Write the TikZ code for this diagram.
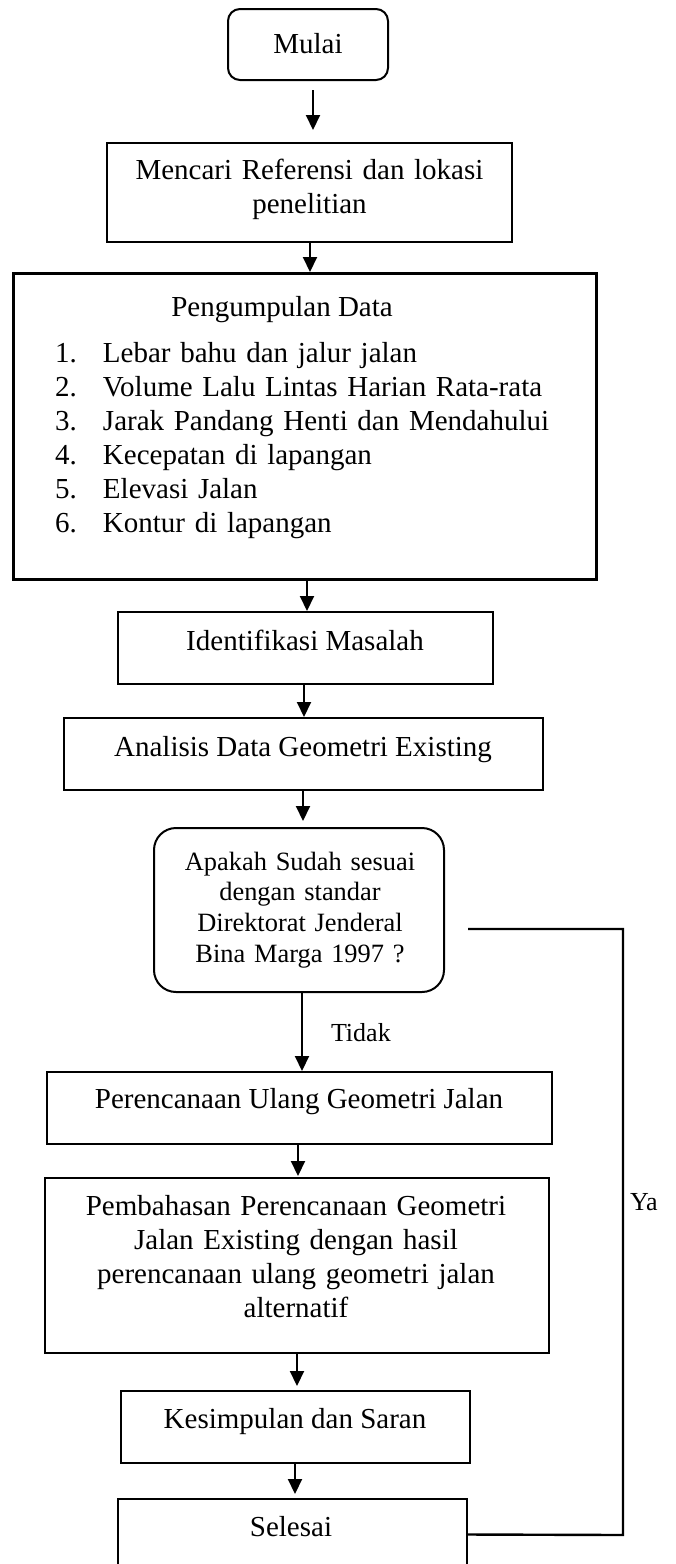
\documentclass[tikz,border=0pt]{standalone}
\usepackage{fontspec}
\setmainfont{Liberation Serif}
\usetikzlibrary{arrows.meta,calc}
\tikzset{
  box/.style={draw=black, line width=1.5pt, inner sep=0pt, outer sep=0pt},
  thickbox/.style={draw=black, line width=3pt, inner sep=0pt, outer sep=0pt},
  roundbox/.style={draw=black, line width=2pt, inner sep=0pt, outer sep=0pt, rounded corners=#1},
  txt/.style={inner sep=0pt, outer sep=0pt, font=\fontsize{29}{34}\selectfont},
  mtxt/.style={txt, align=center, text width=#1},
  dtxt/.style={inner sep=0pt, outer sep=0pt, font=\fontsize{26.4}{30.7}\selectfont, align=center, text width=290pt},
  lbl/.style={inner sep=0pt, outer sep=0pt, font=\fontsize{26}{30}\selectfont},
  arr/.style={line width=2pt, -{Triangle[length=15pt,width=14pt]}},
  yaline/.style={line width=2.4pt},
}
\begin{document}
\begin{tikzpicture}[x=1pt,y=-1pt]
\useasboundingbox (0,0) rectangle (676,1564);
\fill[white] (0,0) rectangle (676,1564);

% boxes
\node[roundbox=12pt, minimum width=160pt, minimum height=71pt] (mulai) at (308,44.5) {};
\node[box, minimum width=405pt, minimum height=99pt] (mencari) at (309.5,192.5) {};
\node[thickbox, minimum width=583pt, minimum height=306pt] (peng) at (304.5,426) {};
\node[box, minimum width=375pt, minimum height=72pt] (ident) at (305.5,648) {};
\node[box, minimum width=479pt, minimum height=72pt] (anal) at (303.5,754) {};
\node[roundbox=22pt, minimum width=290pt, minimum height=164pt] (dec) at (299,910) {};
\node[box, minimum width=505pt, minimum height=72pt] (perenc) at (299.5,1108) {};
\node[box, minimum width=504pt, minimum height=175pt] (bahas) at (297,1265.5) {};
\node[box, minimum width=349pt, minimum height=72pt] (simpul) at (295.5,1427) {};
\node[box, minimum width=349pt, minimum height=71pt] (selesai) at (292.5,1534.5) {};

% texts
\node[txt, anchor=base] (tmulai) at (308,53) {Mulai};
\node[mtxt=405pt, anchor=base] (tmencari) at (309.5,179) {Mencari Referensi dan lokasi\\penelitian};
\node[txt, anchor=base] (tpeng) at (282,316) {Pengumpulan Data};
\node[txt, anchor=base west, align=left, text width=530pt] (tlist) at (55,362) {%
\makebox[48pt][l]{1.}Lebar bahu dan jalur jalan\\
\makebox[48pt][l]{2.}Volume Lalu Lintas Harian Rata-rata\\
\makebox[48pt][l]{3.}Jarak Pandang Henti dan Mendahului\\
\makebox[48pt][l]{4.}Kecepatan di lapangan\\
\makebox[48pt][l]{5.}Elevasi Jalan\\
\makebox[48pt][l]{6.}Kontur di lapangan};
\node[txt, anchor=base] (tident) at (305,650) {Identifikasi Masalah};
\node[txt, anchor=base] (tanal) at (303,756) {Analisis Data Geometri Existing};
\node[dtxt, anchor=base] (tdec) at (300,870) {Apakah Sudah sesuai\\dengan standar\\Direktorat Jenderal\\Bina Marga 1997 ?};
\node[txt, anchor=base] (tperenc) at (299,1108) {Perencanaan Ulang Geometri Jalan};
\node[mtxt=504pt, anchor=base] (tbahas) at (296,1215) {Pembahasan Perencanaan Geometri\\Jalan Existing dengan hasil\\perencanaan ulang geometri jalan\\alternatif};
\node[txt, anchor=base] (tsimpul) at (295,1428) {Kesimpulan dan Saran};
\node[txt, anchor=base] (tselesai) at (291,1536) {Selesai};
\node[lbl, anchor=base west] (tidak) at (331,1041) {Tidak};
\node[lbl, anchor=base west] (ya) at (630,1210) {Ya};

% connectors
\draw[arr] ($(mulai.south)+(5,10)$) -- ($(mencari.north)+(3.5,-13)$);
\draw[arr] ($(mencari.south)+(0.5,0)$) -- ($(peng.north)+(5.5,-1)$);
\draw[arr] ($(peng.south)+(2.5,0)$) -- ($(ident.north)+(1.5,-1)$);
\draw[arr] ($(ident.south)+(-1.5,0)$) -- ($(anal.north)+(0.5,-1)$);
\draw[arr] ($(anal.south)+(-0.5,0)$) -- ($(dec.north)+(4,-7)$);
\draw[arr] ($(dec.south)+(3,0)$) -- ($(perenc.north)+(2.5,-1)$);
\draw[arr] ($(perenc.south)+(-1.5,0)$) -- ($(bahas.north)+(1,-2)$);
\draw[arr] ($(bahas.south)+(0,0)$) -- ($(simpul.north)+(1.5,-5)$);
\draw[arr] ($(simpul.south)+(-0.5,0)$) -- ($(selesai.north)+(2.5,-5)$);

\coordinate (yastart) at ($(dec.east)+(24,19)$);
\coordinate (yacorner) at (623,1535);
\draw[yaline] (yastart) -| (yacorner) -- (selesai.east);
\end{tikzpicture}
\end{document}
